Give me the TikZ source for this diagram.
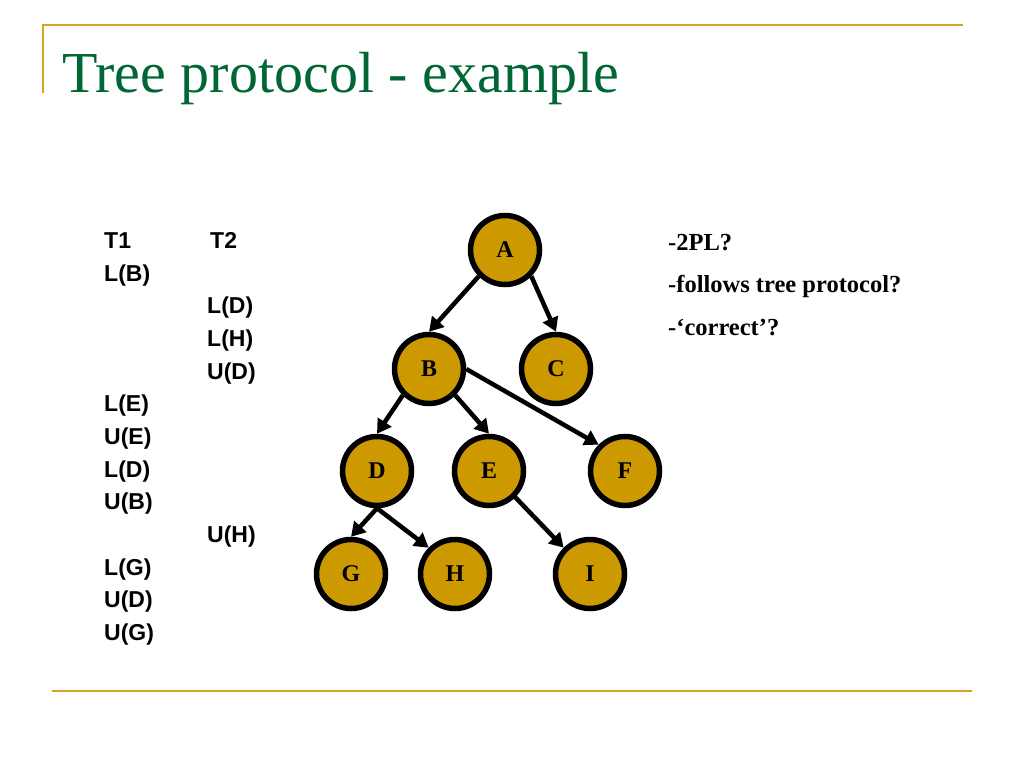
\documentclass[tikz,border=0pt]{standalone}
\usepackage{fontspec}
\setmainfont{Liberation Serif}
\newfontfamily\arialfont{Liberation Sans}
\usetikzlibrary{arrows.meta}
\definecolor{gold}{RGB}{214,164,30}
\definecolor{titlegreen}{RGB}{0,102,51}
\definecolor{nodefill}{RGB}{204,153,0}
\begin{document}
\begin{tikzpicture}[x=1pt,y=-1pt,
  treenode/.style={circle,draw=black,line width=5.5pt,fill=nodefill,minimum size=69pt,inner sep=0pt,
    font=\fontsize{24}{26}\selectfont\bfseries},
  edge/.style={line width=4.5pt,-{Triangle[length=14pt,width=16pt]}},
  optext/.style={anchor=base west,inner sep=0pt,font=\arialfont\fontsize{23}{25}\selectfont\bfseries},
  qtext/.style={anchor=base west,inner sep=0pt,font=\fontsize{24.5}{27}\selectfont\bfseries},
  rule/.style={draw=gold,line width=2.5pt}]
\useasboundingbox (0,0) rectangle (1024,768);
% frame lines
\coordinate (tl) at (43,25);
\coordinate (tr) at (963,25);
\coordinate (vb) at (43,93);
\coordinate (bl) at (52,691);
\coordinate (br) at (972,691);
\draw[rule] (vb) -- (tl) -- (tr);
\draw[rule] (bl) -- (br);
% title
\node[anchor=base west,inner sep=0pt,text=titlegreen,font=\fontsize{58}{60}\selectfont] (title) at (62,92) {Tree protocol - example};
% tree nodes
\node[treenode] (A) at (505,250) {A};
\node[treenode] (B) at (429,369) {B};
\node[treenode] (C) at (556,369) {C};
\node[treenode] (D) at (377,471) {D};
\node[treenode] (E) at (489,471) {E};
\node[treenode] (F) at (625,471) {F};
\node[treenode] (G) at (351,574) {G};
\node[treenode] (H) at (455,574) {H};
\node[treenode] (I) at (590,574) {I};
% edges
\draw[edge] (A.south west) -- (B.north);
\draw[edge] (A.south east) -- (C.north);
\draw[edge] (B.south west) -- (D.north);
\draw[edge] (B.south east) -- (E.north);
\draw[edge] (B.east) -- (F.north west);
\draw[edge] (D.south) -- (G.north);
\draw[edge] (D.south) -- (H.north west);
\draw[edge] (E.south east) -- (I.north west);
% schedule
\node[optext] (t1) at (104,248) {T1};
\node[optext] (t2) at (210,248) {T2};
\node[optext] (s1) at (104,281) {L(B)};
\node[optext] (s2) at (207,313) {L(D)};
\node[optext] (s3) at (207,346) {L(H)};
\node[optext] (s4) at (207,379) {U(D)};
\node[optext] (s5) at (104,411) {L(E)};
\node[optext] (s6) at (104,444) {U(E)};
\node[optext] (s7) at (104,477) {L(D)};
\node[optext] (s8) at (104,509) {U(B)};
\node[optext] (s9) at (207,542) {U(H)};
\node[optext] (s10) at (104,575) {L(G)};
\node[optext] (s11) at (104,607) {U(D)};
\node[optext] (s12) at (104,640) {U(G)};
% questions
\node[qtext] (q1) at (668,250) {-2PL?};
\node[qtext] (q2) at (668,292) {-follows tree protocol?};
\node[qtext] (q3) at (668,335) {-‘correct’?};
\end{tikzpicture}
\end{document}
